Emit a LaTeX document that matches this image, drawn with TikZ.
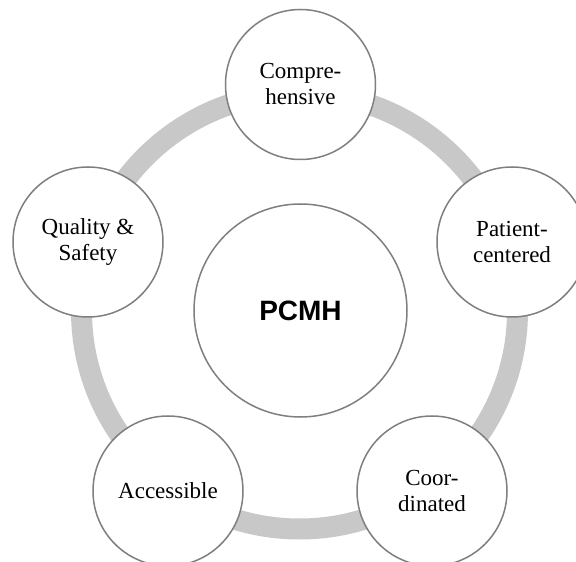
\documentclass[tikz,border=0pt]{standalone}
\usepackage{fontspec}
\setmainfont{Liberation Serif}
\newfontfamily\hubfont{Liberation Sans}
\usepackage{tikz}
\usetikzlibrary{shapes, positioning}
\definecolor{ringgray}{HTML}{C8C8C8}
\definecolor{bordergray}{HTML}{7F7F7F}
\tikzstyle{ring}  = [draw=ringgray, line width=21bp]
\tikzstyle{o}     = [draw=bordergray, line width=1.5bp, circle, fill=white, align=center,
                     inner sep=0pt, font=\fontsize{23bp}{26bp}\selectfont]
\tikzstyle{topic} = [o, minimum size=150bp]
\tikzstyle{hub}   = [o, minimum size=213bp, font=\hubfont\bfseries\fontsize{28bp}{30bp}\selectfont]

\begin{document}
\begin{tikzpicture}[x=1bp, y=1bp]

\clip (-300.5, -251) rectangle (275.5, 311);

% ring
\draw [ring] (-1, 0) circle (218);

% nodes
\node [hub]   at (    0 ,    0.5 ) (pcmh)    {PCMH};
\node [topic] at (    0 ,  226.5 ) (comp)    {Compre-\\hensive};
\node [topic] at (  211.5 ,  69  ) (patient) {Patient-\\centered};
\node [topic] at (  131.5 , -180 ) (coord)   {Coor-\\dinated};
\node [topic] at ( -132.5 , -180 ) (access)  {Accessible};
\node [topic] at ( -212.5 ,  69  ) (quality) {Quality \&\\Safety};

\end{tikzpicture}
\end{document}
